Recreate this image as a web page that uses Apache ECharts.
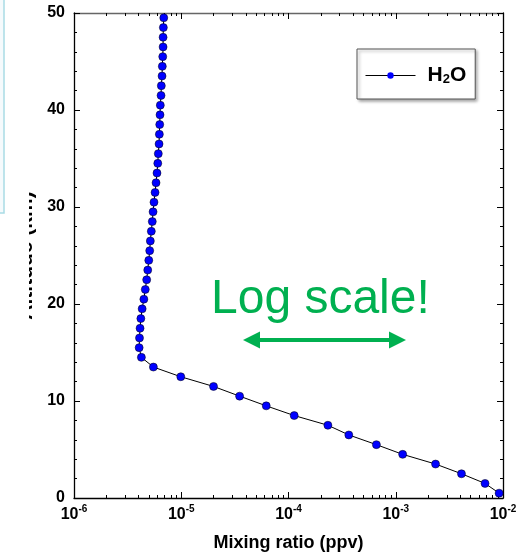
<!DOCTYPE html>
<html>
<head>
<meta charset="utf-8">
<script src="https://cdn.jsdelivr.net/npm/echarts@6/dist/echarts.min.js"></script>
<style>html,body{margin:0;padding:0;background:#fff}#c{width:525px;height:558px}</style>
</head>
<body>
<div id="c"></div>
<script>
const altitude = [0.5, 1.5, 2.5, 3.5, 4.5, 5.5, 6.5, 7.5, 8.5, 9.5,
  10.5, 11.5, 12.5, 13.5, 14.5, 15.5, 16.5, 17.5, 18.5, 19.5,
  20.5, 21.5, 22.5, 23.5, 24.5, 25.5, 26.5, 27.5, 28.5, 29.5,
  30.5, 31.5, 32.5, 33.5, 34.5, 35.5, 36.5, 37.5, 38.5, 39.5,
  40.5, 41.5, 42.5, 43.5, 44.5, 45.5, 46.5, 47.5, 48.5, 49.5];
const h2o = [9.2e-3, 6.8e-3, 4.1e-3, 2.35e-3, 1.16e-3, 6.6e-4, 3.65e-4, 2.33e-4, 1.13e-4, 6.2e-5,
  3.5e-5, 2.0e-5, 9.9e-6, 5.5e-6, 4.25e-6, 4.05e-6, 4.08e-6, 4.13e-6, 4.2e-6, 4.32e-6,
  4.48e-6, 4.62e-6, 4.76e-6, 4.87e-6, 4.98e-6, 5.08e-6, 5.15e-6, 5.26e-6, 5.37e-6, 5.46e-6,
  5.57e-6, 5.70e-6, 5.82e-6, 5.94e-6, 6.04e-6, 6.11e-6, 6.21e-6, 6.25e-6, 6.30e-6, 6.34e-6,
  6.38e-6, 6.48e-6, 6.52e-6, 6.62e-6, 6.66e-6, 6.72e-6, 6.77e-6, 6.77e-6, 6.81e-6, 6.87e-6];
const seriesName = 'H2O';
const xTitle = 'Mixing ratio (ppv)';
const yTitle = 'Altitude (km)';
const xMin = 1e-6, xMax = 1e-2;
const yMin = 0, yMax = 50, yStep = 10;
const annotation = 'Log scale!';

const minorX = [];
for (let d = -6; d < -2; d++) for (let m = 2; m <= 9; m++) minorX.push(m * Math.pow(10, d));

const FONT = '"Liberation Sans", Arial, sans-serif';
const chart = echarts.init(document.getElementById('c'), null, {renderer: 'canvas'});

const baseX = {
  type: 'log', logBase: 10, min: xMin, max: xMax, gridIndex: 0,
  splitLine: {show: false}, minorSplitLine: {show: false}
};
const tickLine = {color: '#000', width: 1};

chart.setOption({
  animation: false,
  backgroundColor: '#fff',
  grid: {left: 74, right: 22, top: 13, bottom: 60, containLabel: false},
  legend: {
    left: 357, top: 49,
    padding: [12, 9, 13, 8],
    borderColor: '#555', borderWidth: 1, backgroundColor: '#fff',
    shadowColor: 'rgba(0,0,0,0.35)', shadowBlur: 3, shadowOffsetX: 2, shadowOffsetY: 2,
    itemWidth: 50, itemHeight: 8,
    lineStyle: {width: 1, color: '#000'},
    itemStyle: {color: '#0000ff', borderWidth: 0},
    data: [seriesName],
    formatter: () => '{b|H}{sub|2}{b|O}',
    textStyle: {
      padding: [0, 0, 0, 7],
      rich: {
        b: {fontSize: 21, fontWeight: 'bold', fontFamily: FONT, color: '#000', lineHeight: 21, verticalAlign: 'top'},
        sub: {fontSize: 13, fontWeight: 'bold', fontFamily: FONT, color: '#000', lineHeight: 13, padding: [12, 0, 0, 0], verticalAlign: 'bottom'}
      }
    }
  },
  xAxis: [
    Object.assign({}, baseX, {
      position: 'bottom',
      name: xTitle, nameLocation: 'middle', nameGap: 36,
      nameTextStyle: {fontSize: 18, fontWeight: 'bold', fontFamily: FONT, color: '#000'},
      axisLine: {show: true, lineStyle: {color: '#000', width: 1.3}},
      axisTick: {show: true, inside: true, length: 6, lineStyle: tickLine},
      axisLabel: {
        margin: 6,
        formatter: v => '{b|10}{s|' + Math.round(Math.log10(v)) + '}',
        rich: {
          b: {fontSize: 16, fontWeight: 'bold', fontFamily: FONT, color: '#000', lineHeight: 19, verticalAlign: 'bottom'},
          s: {fontSize: 10, fontWeight: 'bold', fontFamily: FONT, color: '#000', lineHeight: 10, verticalAlign: 'top'}
        }
      }
    }),
    Object.assign({}, baseX, {
      position: 'bottom',
      axisLine: {show: false}, axisLabel: {show: false},
      axisTick: {show: true, inside: true, length: 3, customValues: minorX, lineStyle: tickLine}
    }),
    Object.assign({}, baseX, {
      position: 'top',
      axisLine: {show: true, lineStyle: {color: '#666', width: 1.3}}, axisLabel: {show: false},
      axisTick: {show: true, inside: true, length: 6, lineStyle: tickLine}
    }),
    Object.assign({}, baseX, {
      position: 'top',
      axisLine: {show: false}, axisLabel: {show: false},
      axisTick: {show: true, inside: true, length: 3, customValues: minorX, lineStyle: tickLine}
    })
  ],
  yAxis: [
    {
      type: 'value', min: yMin, max: yMax, interval: yStep, position: 'left',
      name: yTitle, nameLocation: 'middle', nameGap: 34, nameRotate: 90,
      nameTextStyle: {fontSize: 21, fontWeight: 'bold', fontFamily: FONT, color: '#000'},
      splitLine: {show: false},
      axisLine: {show: true, lineStyle: {color: '#000', width: 1.3}},
      axisTick: {show: true, inside: true, length: 6, lineStyle: tickLine},
      minorTick: {show: true, splitNumber: 5, length: 3, lineStyle: {color: '#000', width: 1}},
      axisLabel: {margin: 9, fontSize: 16, fontWeight: 'bold', fontFamily: FONT, color: '#000'}
    },
    {
      type: 'value', min: yMin, max: yMax, interval: yStep, position: 'right',
      splitLine: {show: false},
      axisLine: {show: true, lineStyle: {color: '#000', width: 1.3}},
      axisTick: {show: true, inside: true, length: 6, lineStyle: tickLine},
      minorTick: {show: true, splitNumber: 5, length: 3, lineStyle: {color: '#000', width: 1}},
      axisLabel: {show: false}
    }
  ],
  series: [{
    name: seriesName,
    type: 'line',
    xAxisIndex: 0, yAxisIndex: 0,
    data: h2o.map((v, i) => [v, altitude[i]]),
    symbol: 'circle', symbolSize: 8,
    lineStyle: {color: '#000', width: 1},
    itemStyle: {color: '#0000ff', borderColor: '#000', borderWidth: 0.5},
    emphasis: {disabled: true},
    z: 5
  }],
  graphic: [
    {type: 'rect', z: 100, shape: {x: 6, y: 182, width: 23, height: 150}, style: {fill: '#fff'}},
    {type: 'rect', z: 101, shape: {x: -5, y: -5, width: 9, height: 218}, style: {fill: 'rgba(173,216,230,0.12)', stroke: '#a9dbe5', lineWidth: 1.5}},
    {type: 'text', z: 100, style: {text: annotation, x: 211, y: 300, fill: '#00b050', font: '48px ' + FONT, align: 'left', verticalAlign: 'middle'}},
    {type: 'line', z: 100, shape: {x1: 255, y1: 340, x2: 394, y2: 340}, style: {stroke: '#00b050', lineWidth: 4}},
    {type: 'polygon', z: 100, shape: {points: [[243, 340], [260, 331.5], [260, 348.5]]}, style: {fill: '#00b050'}},
    {type: 'polygon', z: 100, shape: {points: [[406, 340], [389, 331.5], [389, 348.5]]}, style: {fill: '#00b050'}}
  ]
});
</script>
</body>
</html>
